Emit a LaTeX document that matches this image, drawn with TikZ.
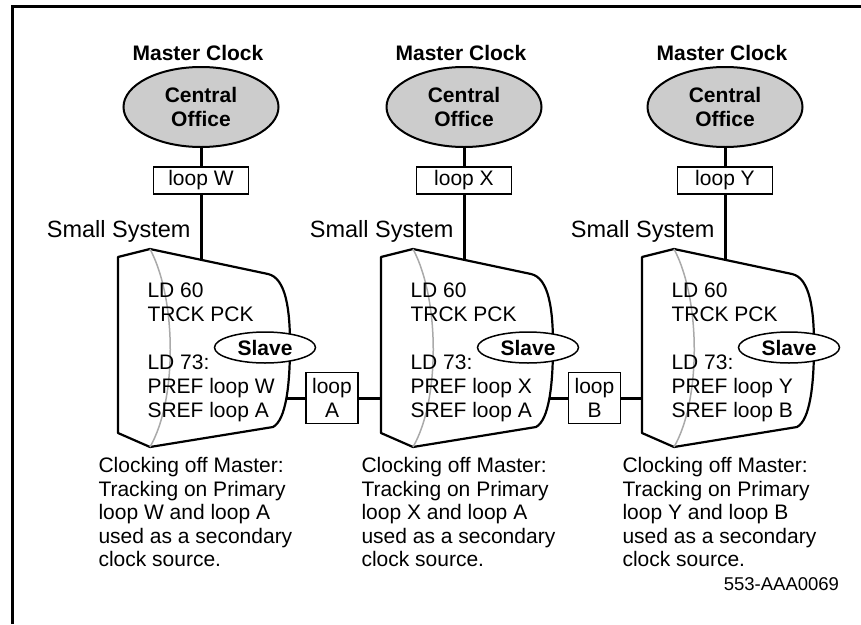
\documentclass[tikz,border=0pt]{standalone}
\usepackage{fontspec}
\setmainfont{Liberation Sans}
\usetikzlibrary{shapes.geometric}
\definecolor{cofill}{RGB}{204,204,204}
\definecolor{edgegray}{RGB}{170,170,170}
\begin{document}
\begin{tikzpicture}[x=1pt,y=-1pt,
  every node/.style={inner sep=0pt, outer sep=0pt},
  txt/.style={font=\fontsize{21}{24}\selectfont, anchor=base west},
  boldtxt/.style={font=\fontsize{21}{24}\selectfont\bfseries},
  office/.style={ellipse, draw, line width=2pt, fill=cofill, minimum width=155pt, minimum height=80pt, align=center, font=\fontsize{21}{24}\selectfont\bfseries},
  loopbox/.style={draw, line width=1.2pt, minimum width=95pt, minimum height=27pt, font=\fontsize{21}{24}\selectfont},
  linkbox/.style={draw, line width=1.2pt, minimum width=52pt, minimum height=51pt, align=center, font=\fontsize{21}{24}\selectfont},
  slave/.style={ellipse, draw, line width=1.5pt, fill=white, minimum width=101pt, minimum height=31pt, font=\fontsize{21}{24}\selectfont\bfseries},
  conn/.style={line width=3pt},
  sysline/.style={line width=2.2pt, line join=round},
  innercurve/.style={edgegray, line width=1.5pt}]
\useasboundingbox (0,0) rectangle (861,624);
\draw[line width=2.7pt] (12.5,624) -- (12.5,6.2) -- (861,6.2);

\foreach \i/\c/\p/\s in {1/201/W/A, 2/464/X/A, 3/725/Y/B}{
  \node[boldtxt, anchor=base] (mc\i) at (\c-3,60) {Master Clock};
  \node[office] (co\i) at (\c,107) {Central\\Office};
  \node[loopbox] (lp\i) at (\c,180.5) {loop \p};
  \coordinate (top\i) at (\c,259.8);
  \coordinate (lf\i) at (\c-83,398);
  \coordinate (rt\i) at (\c+85,398);
  \draw[conn] (co\i) -- (lp\i);
  \draw[conn] (lp\i) -- (top\i);
  \node[font=\fontsize{23.5}{26}\selectfont, anchor=base east] (ss\i) at (\c-10.5,237.5) {Small System};
  \begin{scope}[shift={(\c,0)}]
    \draw[sysline, fill=white] (-83,257) -- (-51,249) -- (67,274)
      .. controls (85,278) and (89,310) .. (89,345)
      .. controls (89,385) and (85,420) .. (72,427)
      -- (-51,447) -- (-83,433) -- cycle;
    \draw[innercurve] (-51,249) .. controls (-24,300) and (-24,400) .. (-51,447);
  \end{scope}
  \node[txt] (ta\i) at (\c-53.5,297) {LD 60};
  \node[txt] (tb\i) at (\c-53.5,321) {TRCK PCK};
  \node[txt] (tc\i) at (\c-53.5,369) {LD 73:};
  \node[txt] (td\i) at (\c-53.5,393) {PREF loop \p};
  \node[txt] (te\i) at (\c-53.5,417) {SREF loop \s};
  \node[slave] (sl\i) at (\c+64,347.5) {Slave};
  \node[txt] (ca\i) at (\c-102.5,472.5) {Clocking off Master:};
  \node[txt] (cb\i) at (\c-102.5,496) {Tracking on Primary};
  \node[txt] (cc\i) at (\c-102.5,519.5) {loop \p{} and loop \s};
  \node[txt] (cd\i) at (\c-102.5,543) {used as a secondary};
  \node[txt] (ce\i) at (\c-102.5,566.5) {clock source.};
}

\node[linkbox] (la) at (332,398) {loop\\A};
\node[linkbox] (lb) at (594.5,398) {loop\\B};
\draw[conn] (rt1) -- (la);
\draw[conn] (la) -- (lf2);
\draw[conn] (rt2) -- (lb);
\draw[conn] (lb) -- (lf3);

\node[font=\fontsize{18.5}{20}\selectfont, anchor=base east] (code) at (839,590.5) {553-AAA0069};
\end{tikzpicture}
\end{document}
